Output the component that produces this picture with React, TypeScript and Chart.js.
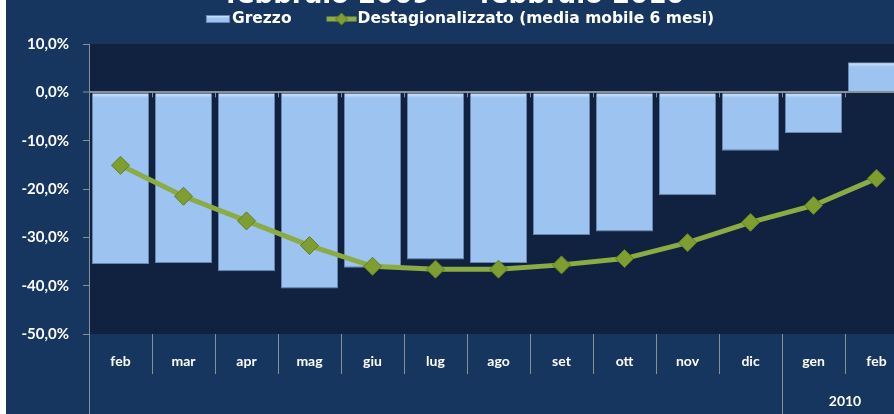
import React, { useEffect, useRef } from 'react';
import { Chart, registerables } from 'chart.js';

Chart.register(...registerables);

const TITLE = 'febbraio 2009  –  febbraio 2010';
const SERIES_BAR = 'Grezzo';
const SERIES_LINE = 'Destagionalizzato (media mobile 6 mesi)';
const months = ['feb', 'mar', 'apr', 'mag', 'giu', 'lug', 'ago', 'set', 'ott', 'nov', 'dic', 'gen', 'feb'];
const YEAR_LABEL = '2010';
const YEAR_START_INDEX = 11;
const grezzo = [-35.5, -35.3, -37.0, -40.6, -36.3, -34.6, -35.3, -29.5, -28.8, -21.3, -12.1, -8.4, 6.2];
const destagionalizzato = [-15.1, -21.5, -26.6, -31.7, -36.0, -36.6, -36.6, -35.7, -34.4, -31.1, -26.9, -23.4, -17.8];
const Y_MIN = -50;
const Y_MAX = 10;
const Y_STEP = 10;

const OUTER_BG = '#17365f';
const PLOT_BG = '#10223f';
const BAR_FILL = '#9dc3f0';
const BAR_BORDER = '#6a86b0';
const LINE_COLOR = '#8bab45';
const POINT_FILL = '#7e9e31';
const POINT_BORDER = '#62801e';
const AXIS_GRAY = '#8a8e96';
const TEXT_FONT = 'Lato';
const HEAD_FONT = '"DejaVu Sans"';

// canvas offset inside the page
const OX = 6;
const OY = -17;
const CW = 914;
const CH = 431;

function fmt(v: number): string {
  return v.toFixed(1).replace('.', ',') + '%';
}

const decor = {
  id: 'decor',
  beforeDraw(chart: any) {
    const { ctx, chartArea: ca } = chart;
    ctx.save();
    ctx.fillStyle = OUTER_BG;
    ctx.fillRect(0, 0, chart.width, chart.height);
    ctx.fillStyle = PLOT_BG;
    ctx.fillRect(ca.left, ca.top, ca.right - ca.left, ca.bottom - ca.top);

    // title (mostly cut off at the top)
    ctx.fillStyle = '#ffffff';
    ctx.font = `bold 26px ${HEAD_FONT}`;
    ctx.textAlign = 'center';
    ctx.textBaseline = 'alphabetic';
    ctx.fillText(TITLE, 455 - OX, 3 - OY);

    // legend
    ctx.font = `bold 15.5px ${HEAD_FONT}`;
    const w1 = ctx.measureText(SERIES_BAR).width;
    const w2 = ctx.measureText(SERIES_LINE).width;
    const icon1 = 24, gap1 = 2, between = 35, icon2 = 30, gap2 = 1;
    const total = icon1 + gap1 + w1 + between + icon2 + gap2 + w2;
    let x = 460 - OX - total / 2;
    const cy = 19 - OY;
    // bar icon
    const g = ctx.createLinearGradient(0, cy - 4, 0, cy + 4);
    g.addColorStop(0, '#e8f2fd');
    g.addColorStop(0.4, BAR_FILL);
    g.addColorStop(1, BAR_FILL);
    ctx.fillStyle = g;
    ctx.fillRect(x, cy - 4, icon1, 8);
    ctx.strokeStyle = BAR_BORDER;
    ctx.lineWidth = 1;
    ctx.strokeRect(x + 0.5, cy - 3.5, icon1 - 1, 7);
    x += icon1 + gap1;
    ctx.fillStyle = '#ffffff';
    ctx.textAlign = 'left';
    ctx.textBaseline = 'middle';
    ctx.fillText(SERIES_BAR, x, cy);
    x += w1 + between;
    // line icon
    ctx.strokeStyle = LINE_COLOR;
    ctx.lineWidth = 5;
    ctx.beginPath();
    ctx.moveTo(x, cy);
    ctx.lineTo(x + icon2, cy);
    ctx.stroke();
    const dx = x + icon2 / 2;
    ctx.fillStyle = POINT_FILL;
    ctx.strokeStyle = POINT_BORDER;
    ctx.lineWidth = 1;
    ctx.beginPath();
    ctx.moveTo(dx, cy - 6);
    ctx.lineTo(dx + 6, cy);
    ctx.lineTo(dx, cy + 6);
    ctx.lineTo(dx - 6, cy);
    ctx.closePath();
    ctx.fill();
    ctx.stroke();
    x += icon2 + gap2;
    ctx.fillStyle = '#ffffff';
    ctx.fillText(SERIES_LINE, x, cy);
    ctx.restore();
  },
  beforeDatasetsDraw(chart: any) {
    const { ctx } = chart;
    const xs = chart.scales.x;
    const ys = chart.scales.y;
    const y0 = ys.getPixelForValue(0);
    const step = xs.getPixelForValue(1) - xs.getPixelForValue(0);
    ctx.save();
    ctx.strokeStyle = AXIS_GRAY;
    ctx.lineWidth = 1;
    for (let i = 1; i <= months.length; i++) {
      const bx = Math.round(xs.getPixelForValue(i) - step / 2) + 0.5;
      ctx.beginPath();
      ctx.moveTo(bx, y0);
      ctx.lineTo(bx, y0 + 5);
      ctx.stroke();
    }
    ctx.restore();
  },
  afterDatasetDraw(chart: any, args: any) {
    if (args.index !== 0) return;
    const { ctx } = chart;
    const meta = chart.getDatasetMeta(0);
    ctx.save();
    for (const el of meta.data as any[]) {
      const top = Math.min(el.y, el.base);
      const left = el.x - el.width / 2 + 1;
      const g = ctx.createLinearGradient(0, top, 0, top + 6);
      g.addColorStop(0, '#eef6fe');
      g.addColorStop(1, 'rgba(157,195,240,0)');
      ctx.fillStyle = g;
      ctx.fillRect(left, top + 1, el.width - 2, 6);
    }
    ctx.restore();
  },
  afterDraw(chart: any) {
    const { ctx, chartArea: ca } = chart;
    const xs = chart.scales.x;
    const step = xs.getPixelForValue(1) - xs.getPixelForValue(0);
    ctx.save();
    ctx.strokeStyle = AXIS_GRAY;
    ctx.lineWidth = 1;
    // category separators below the plot
    for (let i = 1; i < months.length; i++) {
      const bx = Math.round(xs.getPixelForValue(i) - step / 2) + 0.5;
      const end = i === YEAR_START_INDEX ? chart.height : ca.bottom + 40;
      ctx.beginPath();
      ctx.moveTo(bx, ca.bottom);
      ctx.lineTo(bx, end);
      ctx.stroke();
    }
    // y axis continued to the bottom
    const ax = Math.round(ca.left) + 0.5;
    ctx.beginPath();
    ctx.moveTo(ax, ca.bottom);
    ctx.lineTo(ax, chart.height);
    ctx.stroke();
    // year group label
    const gx0 = xs.getPixelForValue(YEAR_START_INDEX) - step / 2;
    const gx1 = xs.getPixelForValue(months.length - 1) + step / 2;
    ctx.fillStyle = '#ffffff';
    ctx.font = `bold 14px ${TEXT_FONT}`;
    ctx.textAlign = 'center';
    ctx.textBaseline = 'middle';
    ctx.fillText(YEAR_LABEL, (gx0 + gx1) / 2, 401 - OY);
    ctx.restore();
  },
};

export default function App() {
  const ref = useRef<HTMLCanvasElement | null>(null);

  useEffect(() => {
    document.body.style.margin = '0';
    const canvas = ref.current;
    if (!canvas) return;
    const chart = new Chart(canvas, {
      type: 'bar',
      data: {
        labels: months,
        datasets: [
          {
            type: 'bar',
            label: SERIES_BAR,
            data: grezzo,
            backgroundColor: BAR_FILL,
            borderColor: BAR_BORDER,
            borderWidth: 1,
            barPercentage: 0.905,
            categoryPercentage: 1,
            order: 1,
          } as any,
          {
            type: 'line',
            label: SERIES_LINE,
            data: destagionalizzato,
            borderColor: LINE_COLOR,
            borderWidth: 5,
            pointStyle: 'rectRot',
            pointRadius: 9,
            pointBackgroundColor: POINT_FILL,
            pointBorderColor: POINT_BORDER,
            pointBorderWidth: 1,
            tension: 0,
            order: 0,
          } as any,
        ],
      },
      options: {
        responsive: false,
        animation: false,
        devicePixelRatio: 1,
        layout: { padding: { top: 44 - OY, right: CW - (908 - OX), left: 0, bottom: 0 } },
        plugins: {
          legend: { display: false },
          title: { display: false },
          tooltip: { enabled: false },
        },
        scales: {
          x: {
            offset: true,
            grid: { display: false, drawTicks: false },
            border: { display: false },
            ticks: {
              color: '#ffffff',
              font: { family: TEXT_FONT, weight: 'bold', size: 14 },
              padding: 19,
              maxRotation: 0,
              autoSkip: false,
            },
            afterFit: (s: any) => {
              s.height = 414 - 334;
            },
          },
          y: {
            min: Y_MIN,
            max: Y_MAX,
            grid: {
              drawOnChartArea: true,
              drawTicks: true,
              tickLength: 6,
              color: (c: any) => (c.tick && c.tick.value === 0 ? AXIS_GRAY : 'rgba(0,0,0,0)'),
              lineWidth: (c: any) => (c.tick && c.tick.value === 0 ? 2 : 1),
              tickColor: AXIS_GRAY,
              tickWidth: 1,
            },
            border: { display: true, color: AXIS_GRAY, width: 1 },
            ticks: {
              stepSize: Y_STEP,
              color: '#ffffff',
              font: { family: TEXT_FONT, weight: 'bold', size: 15 },
              padding: 14,
              callback: (v: any) => fmt(Number(v)),
            },
            afterFit: (s: any) => {
              s.width = 89 - OX;
            },
          },
        },
      } as any,
      plugins: [decor],
    });
    return () => chart.destroy();
  }, []);

  return (
    <div style={{ position: 'relative', width: 894, height: 414, overflow: 'hidden', background: '#ffffff' }}>
      <canvas
        ref={ref}
        width={CW}
        height={CH}
        style={{ position: 'absolute', left: OX, top: OY, width: CW, height: CH }}
      />
    </div>
  );
}
